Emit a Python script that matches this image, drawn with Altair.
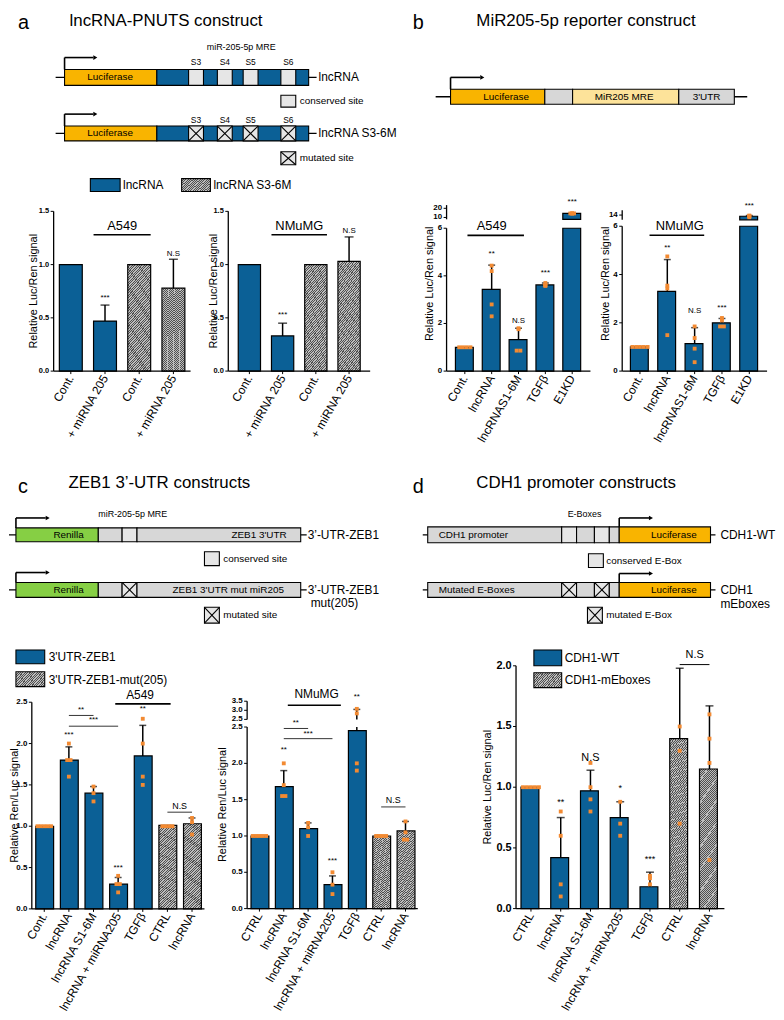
import json
import math
import altair as alt
import pandas as pd

# ---------------- data ----------------
A_LABELS = ["Cont.", "+ miRNA 205", "Cont.", "+ miRNA 205"]
A_KINDS = ["wt", "wt", "mut", "mut"]
A_A549_MEAN = [1.0, 0.47, 1.0, 0.78]
A_A549_SD = [0.0, 0.15, 0.0, 0.27]
A_NMUMG_MEAN = [1.0, 0.33, 1.0, 1.03]
A_NMUMG_SD = [0.0, 0.12, 0.0, 0.23]

B_LABELS = ["Cont.", "lncRNA", "lncRNAS1-6M", "TGFβ", "E1KD"]
B_KINDS = ["wt"] * 5
B_A549_MEAN = [1.0, 3.43, 1.32, 3.62, 14.4]
B_A549_SD = [0.0, 1.02, 0.48, 0.08, 0.4]
B_A549_PTS = [[1, 1, 1, 1], [4.43, 4.2, 2.8, 2.3], [1.8, 1.76, 0.86, 0.86],
              [3.7, 3.62, 3.6, 3.58], [14.6, 14.4, 14.4, 14.2]]
B_NMUMG_MEAN = [1.0, 3.3, 1.14, 2.0, 13.5]
B_NMUMG_SD = [0.0, 1.32, 0.66, 0.18, 0.3]
B_NMUMG_PTS = [[1, 1, 1, 1, 1], [4.75, 3.54, 3.42, 1.49], [1.85, 1.37, 0.93, 0.37],
               [2.2, 2.1, 1.85, 1.85], [13.8, 13.6, 13.5, 13.1]]

C_A549_LABELS = ["Cont.", "lncRNA", "lncRNA S1-6M", "lncRNA + miRNA205", "TGFβ", "CTRL", "lncRNA"]
C_NMUMG_LABELS = ["CTRL", "lncRNA", "lncRNA S1-6M", "lncRNA + miRNA205", "TGFβ", "CTRL", "lncRNA"]
C_KINDS = ["wt"] * 5 + ["mut"] * 2
C_A549_MEAN = [1.0, 1.8, 1.4, 0.3, 1.85, 1.01, 1.03]
C_A549_SD = [0.0, 0.16, 0.08, 0.08, 0.37, 0.0, 0.07]
C_A549_PTS = [[1, 1, 1, 1, 1], [2.0, 1.8, 1.8, 1.6], [1.48, 1.4, 1.3], [0.4, 0.3, 0.3, 0.2],
              [2.3, 2.0, 1.6, 1.5], [1, 1, 1, 1], [1.1, 1.05, 0.9]]
C_NMUMG_MEAN = [1.0, 1.68, 1.1, 0.33, 2.45, 1.0, 1.07]
C_NMUMG_SD = [0.0, 0.22, 0.08, 0.12, 0.6, 0.0, 0.13]
C_NMUMG_PTS = [[1, 1, 1, 1, 1], [2.0, 1.7, 1.55, 1.55], [1.18, 1.12, 1.0], [0.5, 0.33, 0.2],
               [3.08, 2.83, 2.0, 1.9], [1, 1, 1, 1], [1.2, 1.05, 0.95, 0.95]]

D_LABELS = ["CTRL", "lncRNA", "lncRNA S1-6M", "lncRNA + miRNA205", "TGFβ", "CTRL", "lncRNA"]
D_KINDS = ["wt"] * 5 + ["mut"] * 2
D_MEAN = [1.0, 0.42, 0.97, 0.75, 0.18, 1.4, 1.15]
D_SD = [0.0, 0.33, 0.17, 0.13, 0.12, 0.58, 0.52]
D_PTS = [[1, 1, 1, 1, 1], [0.8, 0.6, 0.2, 0.1], [1.2, 1.0, 0.9, 0.8], [0.88, 0.7, 0.6],
         [0.27, 0.25, 0.2], [1.5, 1.3, 0.7], [1.6, 1.4, 1.2, 0.4]]

# ---------------- style ----------------
BLUE = "#0b6096"
ORANGE = "#f28a32"
LUC = "#f9b400"
GREEN = "#86cf44"
LGREY = "#d7d7d7"
SITE = "#e6e6e6"
MRE = "#fde39a"
FONT = "Liberation Sans"
W, H = 768, 1004
M = 8  # page margin: reference pixel -> chart pixel


def hatch(w, h, spacing=1.7, dark="#4f4f4f", light="#bdbdbd", frac=0.45):
    k = (w + h) / (w * w + h * h)
    n = max(2, int(round((w + h) / (math.sqrt(2) * spacing))))
    stops = []
    for i in range(n):
        a, b, c = i / n, (i + frac) / n, (i + 1) / n
        stops += [{"offset": round(a, 5), "color": dark}, {"offset": round(b, 5), "color": dark},
                  {"offset": round(b, 5), "color": light}, {"offset": round(c, 5), "color": light}]
    return {"gradient": "linear", "x1": 0, "y1": 0, "x2": round(k * w, 5), "y2": round(k * h, 5),
            "stops": stops}


def spread(pts):
    rows = []
    for i, vals in enumerate(pts):
        counts = {}
        for v in vals:
            counts[v] = counts.get(v, 0) + 1
        seen = {}
        for v in vals:
            n = counts[v]
            k = seen.get(v, 0)
            seen[v] = k + 1
            rows.append({"cat": str(i), "v": v, "off": k - (n - 1) / 2})
    return pd.DataFrame(rows)


def bar_panel(labels, kinds, means, sds, pts, xr, yr, dom, ticks, fmt, pi, po,
              title=None, title_dx=-18, title_y=None, show_x=True, cap=7,
              notes=(), lines=(), hatch_fill=None, label_size=8, xlabel_size=12):
    n = len(labels)
    cats = [str(i) for i in range(n)]
    lo, hi = dom
    step = (xr[1] - xr[0]) / (n - pi + 2 * po)
    bw = step * (1 - pi)
    pad = po * step
    xsc = alt.Scale(domain=cats, range=[xr[0] - M, xr[1] - M], paddingInner=pi, paddingOuter=po)
    ysc = alt.Scale(domain=[lo, hi], range=[yr[0] - M, yr[1] - M], nice=False, zero=False)

    def X(field, bp=0.5):
        return alt.X(field, scale=xsc, axis=None, bandPosition=bp)

    def Y(field):
        return alt.Y(field, scale=ysc, axis=None)

    layers = []
    # ---- bars ----
    df = pd.DataFrame({"cat": cats, "kind": kinds, "mean": means, "sd": sds})
    df["top"] = df["mean"].clip(upper=hi)
    df["base"] = lo
    df = df[df["mean"] > lo]
    for kind, fill in (("wt", BLUE), ("mut", hatch_fill)):
        sub = df[df["kind"] == kind]
        if sub.empty:
            continue
        layers.append(alt.Chart(sub).mark_bar(fill=fill, stroke="black", strokeWidth=1.2).encode(
            x=alt.X("cat:N", scale=xsc, axis=None), y=Y("top:Q"), y2="base:Q"))
    # ---- error bars (upper half) ----
    e = pd.DataFrame({"cat": cats, "mean": means, "sd": sds})
    e["hiv"] = e["mean"] + e["sd"]
    e["e0"] = e["mean"].clip(lower=lo)
    e["e1"] = e["hiv"].clip(upper=hi)
    er = e[(e["sd"] > 0) & (e["e0"] < e["e1"])]
    if not er.empty:
        layers.append(alt.Chart(er).mark_rule(color="black", strokeWidth=1.5).encode(
            x=X("cat:N"), y=Y("e0:Q"), y2="e1:Q"))
    ec = e[(e["sd"] > 0) & (e["hiv"] >= lo) & (e["hiv"] <= hi)]
    if not ec.empty:
        layers.append(alt.Chart(ec).mark_tick(color="black", thickness=1.5, size=cap).encode(
            x=X("cat:N"), y=Y("hiv:Q")))
    # ---- replicate points ----
    if pts:
        p = spread(pts)
        p = p[(p["v"] >= lo) & (p["v"] <= hi)]
        if not p.empty:
            layers.append(alt.Chart(p).mark_point(shape="square", filled=True, size=15, color=ORANGE,
                                                  opacity=1).encode(
                x=alt.X("cat:N", scale=xsc, axis=None),
                xOffset=alt.XOffset("off:Q", scale=alt.Scale(domain=[-2.5, 2.5])),
                y=Y("v:Q")))
    # ---- y axis ----
    c0, cl = cats[0], cats[-1]
    layers.append(alt.Chart(pd.DataFrame({"c": [c0], "lo": [lo], "hi": [hi]})).mark_rule(
        color="black", strokeWidth=1.3, xOffset=-pad).encode(x=X("c:N", 0), y=Y("lo:Q"), y2="hi:Q"))
    tk = pd.DataFrame({"c": [c0] * len(ticks), "v": ticks,
                       "t": [format(v, fmt) if fmt != "d" else str(int(v)) for v in ticks]})
    layers.append(alt.Chart(tk).mark_rule(color="black", strokeWidth=1, xOffset=-pad - 3,
                                          x2Offset=-pad).encode(
        x=X("c:N", 0), x2=alt.X2("c:N", bandPosition=0), y=Y("v:Q")))
    layers.append(alt.Chart(tk).mark_text(align="right", baseline="middle", fontSize=label_size,
                                          fontWeight="bold", color="black", xOffset=-pad - 4.5).encode(
        x=X("c:N", 0), y=Y("v:Q"), text="t:N"))
    if title:
        ty = (yr[0] + yr[1]) / 2 if title_y is None else title_y
        tv = lo + (yr[0] - ty) / (yr[0] - yr[1]) * (hi - lo)
        layers.append(alt.Chart(pd.DataFrame({"c": [c0], "v": [tv], "t": [title]})).mark_text(
            angle=270, align="center", baseline="middle", fontSize=11, color="black",
            xOffset=title_dx - pad).encode(x=X("c:N", 0), y=Y("v:Q"), text="t:N"))
    # ---- x axis ----
    if show_x:
        layers.append(alt.Chart(pd.DataFrame({"a": [c0], "b": [cl], "lo": [lo]})).mark_rule(
            color="black", strokeWidth=1.3, xOffset=-pad, x2Offset=pad).encode(
            x=X("a:N", 0), x2=alt.X2("b:N", bandPosition=1), y=Y("lo:Q")))
        xl = pd.DataFrame({"cat": cats, "lo": [lo] * n, "t": labels})
        layers.append(alt.Chart(xl).mark_rule(color="black", strokeWidth=1, y2Offset=3).encode(
            x=X("cat:N"), y=Y("lo:Q"), y2="lo:Q"))
        layers.append(alt.Chart(xl).mark_text(angle=300, align="right", baseline="middle",
                                              fontSize=xlabel_size, color="black", yOffset=5).encode(
            x=X("cat:N"), y=Y("lo:Q"), text="t:N"))
    # ---- annotations ----
    for (c, bp, v, t, s) in notes:
        dx = 0.0
        if bp > 1:
            dx = (bp - 1) * bw
            bp = 1.0
        layers.append(alt.Chart(pd.DataFrame({"cat": [str(c)], "v": [v], "t": [t]})).mark_text(
            fontSize=s, align="center", baseline="middle", color="black", dx=dx).encode(
            x=X("cat:N", bp), y=Y("v:Q"), text="t:N"))
    for (ca, bpa, cb, bpb, v, sw) in lines:
        layers.append(alt.Chart(pd.DataFrame({"a": [str(ca)], "b": [str(cb)], "v": [v]})).mark_rule(
            color="black", strokeWidth=sw).encode(
            x=X("a:N", min(max(bpa, 0), 1)),
            x2=alt.X2("b:N", bandPosition=min(max(bpb, 0), 1)),
            y=Y("v:Q")))
    return alt.layer(*layers)


HATCH_A = hatch(23, 100)
HATCH_C = hatch(17, 85)
HATCH_D = hatch(20, 160)
HATCH_LEG = hatch(29, 14)

panels = []
# ---- panel a ----
panels.append(bar_panel(A_LABELS, A_KINDS, A_A549_MEAN, A_A549_SD, None, (53, 191), (369, 208), (0, 1.5),
                        [0, 0.5, 1.0, 1.5], ".1f", 0.33, 0.167, title="Relative Luc/Ren signal",
                        title_dx=-20, cap=9, hatch_fill=HATCH_A, label_size=7.5,
                        notes=[(1, 0.5, 0.69, "***", 8), (3, 0.5, 1.1, "N.S", 8), (1, 1.25, 1.36, "A549", 13)],
                        lines=[(1, 0.0, 2, 1.0, 1.28, 1.6)]))
panels.append(bar_panel(A_LABELS, A_KINDS, A_NMUMG_MEAN, A_NMUMG_SD, None, (229, 372), (369, 208), (0, 1.5),
                        [0, 0.5, 1.0, 1.5], ".1f", 0.33, 0.3, title="Relative Luc/Ren signal",
                        title_dx=-14, cap=9, hatch_fill=HATCH_A, label_size=7.5,
                        notes=[(1, 0.5, 0.53, "***", 8), (3, 0.5, 1.32, "N.S", 8), (1, 1.25, 1.36, "NMuMG", 13)],
                        lines=[(1, 0.0, 2, 1.0, 1.28, 1.6)]))
# ---- panel b ----
panels.append(bar_panel(B_LABELS, B_KINDS, B_A549_MEAN, B_A549_SD, B_A549_PTS, (449, 594), (369, 225), (0, 6),
                        [0, 2, 4, 6], "d", 0.3, 0.33, title="Relative Luc/Ren signal", title_dx=-16.5,
                        title_y=281,
                        notes=[(1, 0.5, 4.9, "**", 8), (2, 0.5, 2.1, "N.S", 8), (3, 0.5, 4.1, "***", 8),
                               (1, 0.5, 6.08, "A549", 13)],
                        lines=[(0, 0.64, 2, 0.79, 5.7, 1.6)]))
panels.append(bar_panel(B_LABELS, B_KINDS, B_A549_MEAN, B_A549_SD, B_A549_PTS, (449, 594), (216, 201.7),
                        (8, 23.5), [10, 20], "d", 0.3, 0.33, show_x=False,
                        notes=[(4, 0.5, 26.4, "***", 8)]))
panels.append(bar_panel(B_LABELS, B_KINDS, B_NMUMG_MEAN, B_NMUMG_SD, B_NMUMG_PTS, (626, 772), (369, 223),
                        (0, 6), [0, 2, 4, 6], "d", 0.3, 0.3, title="Relative Luc/Ren signal", title_dx=-16,
                        title_y=281,
                        notes=[(1, 0.5, 5.1, "**", 8), (2, 0.5, 2.5, "N.S", 8), (3, 0.5, 2.6, "***", 8),
                               (1, 1.15, 6.0, "NMuMG", 13)],
                        lines=[(0, 1.0, 2, 1.0, 5.63, 1.6)]))
panels.append(bar_panel(B_LABELS, B_KINDS, B_NMUMG_MEAN, B_NMUMG_SD, B_NMUMG_PTS, (626, 772), (216.5, 207),
                        (12, 16), [14], "d", 0.3, 0.3, show_x=False,
                        notes=[(4, 0.5, 17.8, "***", 8)]))
# ---- panel c ----
panels.append(bar_panel(C_A549_LABELS, C_KINDS, C_A549_MEAN, C_A549_SD, C_A549_PTS, (31, 205), (911, 702.7),
                        (0, 2.5), [0, 0.5, 1.0, 1.5, 2.0, 2.5], ".1f", 0.31, 0.16,
                        title="Relative Ren/Luc signal", title_dx=-17, hatch_fill=HATCH_C,
                        notes=[(1, 0.5, 2.1, "***", 8), (3, 0.5, 0.49, "***", 8), (4, 0.5, 2.42, "**", 8),
                               (1, 1.22, 2.41, "**", 8), (2, 0.5, 2.28, "***", 8), (5, 1.22, 1.25, "N.S", 9),
                               (4, 0.34, 2.59, "A549", 12)],
                        lines=[(1, 0.5, 2, 0.5, 2.34, 0.8), (1, 0.5, 3, 0.5, 2.21, 0.8),
                               (5, 0.5, 6, 0.5, 1.17, 0.8), (3, 0.33, 5, 0.69, 2.48, 1.6)]))
panels.append(bar_panel(C_NMUMG_LABELS, C_KINDS, C_NMUMG_MEAN, C_NMUMG_SD, C_NMUMG_PTS, (248, 420),
                        (910.7, 727.7), (0, 2.5), [0, 0.5, 1.0, 1.5, 2.0, 2.5], ".1f", 0.31, 0.16,
                        title="Relative Ren/Luc signal", title_dx=-24, title_y=806, hatch_fill=HATCH_C,
                        notes=[(1, 0.5, 2.19, "**", 8), (3, 0.5, 0.65, "***", 8), (1, 1.22, 2.56, "**", 8),
                               (2, 0.5, 2.41, "***", 8), (5, 1.22, 1.5, "N.S", 9)],
                        lines=[(1, 0.5, 2, 0.5, 2.48, 0.8), (1, 0.5, 3, 0.5, 2.34, 0.8),
                               (5, 0.5, 6, 0.5, 1.4, 0.8)]))
panels.append(bar_panel(C_NMUMG_LABELS, C_KINDS, C_NMUMG_MEAN, C_NMUMG_SD, C_NMUMG_PTS, (248, 420),
                        (720, 701.7), (2.5, 3.5), [2.5, 3.0, 3.5], ".1f", 0.31, 0.16, show_x=False,
                        hatch_fill=HATCH_C,
                        notes=[(4, 0.5, 3.72, "**", 8), (2, 1.0, 3.92, "NMuMG", 12)],
                        lines=[(1, 0.74, 3, 1.0, 3.28, 1.6)]))
# ---- panel d ----
panels.append(bar_panel(D_LABELS, D_KINDS, D_MEAN, D_SD, D_PTS, (519, 729), (910.7, 666), (0, 2.0),
                        [0, 0.5, 1.0, 1.5, 2.0], ".1f", 0.33, 0.167, title="Relative Luc/Ren signal",
                        title_dx=-28, label_size=11, cap=8, hatch_fill=HATCH_D,
                        notes=[(1, 0.5, 0.88, "**", 9), (2, 0.5, 1.24, "N.S", 11), (3, 0.5, 0.99, "*", 9),
                               (4, 0.5, 0.41, "***", 9), (5, 1.25, 2.09, "N.S", 11)],
                        lines=[(5, 0.5, 6, 0.5, 2.01, 1.0)]))

# ---------------- schematics (reference pixel space) ----------------
XS = alt.Scale(domain=[M, W + M], range=[0, W], nice=False, zero=False)
YS = alt.Scale(domain=[M, H + M], range=[0, H], nice=False, zero=False)

RECTS = [
    (64, 157, 65, 81, LUC), (157, 310, 65, 81, BLUE),
    (189, 204, 65, 81, SITE), (218, 233, 65, 81, SITE), (244, 259, 65, 81, SITE), (282, 297, 65, 81, SITE),
    (282, 297, 91, 103, SITE),
    (64, 157, 122, 137, LUC), (157, 310, 122, 137, BLUE),
    (189, 204, 122, 137, SITE), (218, 233, 122, 137, SITE), (244, 259, 122, 137, SITE), (282, 297, 122, 137, SITE),
    (282, 297, 148, 161, SITE),
    (90, 120, 175, 188, BLUE),
    (453, 548, 85, 100, LUC), (548, 576, 85, 100, LGREY), (576, 683, 85, 100, MRE), (683, 739, 85, 100, LGREY),
    (15, 98, 527, 541, GREEN), (98, 122, 527, 541, LGREY), (122, 137, 527, 541, SITE), (137, 302, 527, 541, LGREY),
    (205, 220, 551, 565, SITE),
    (15, 98, 582, 597, GREEN), (98, 122, 582, 597, LGREY), (122, 137, 582, 597, SITE), (137, 302, 582, 597, LGREY),
    (205, 220, 607, 623, SITE),
    (15, 44, 650, 664, BLUE),
    (430, 565, 526, 542, LGREY), (565, 580, 526, 542, SITE), (580, 598, 526, 542, LGREY),
    (598, 613, 526, 542, SITE), (613, 623, 526, 542, LGREY), (623, 715, 526, 542, LUC),
    (592, 607, 553, 567, SITE),
    (430, 565, 582, 597, LGREY), (565, 580, 582, 597, SITE), (580, 598, 582, 597, LGREY),
    (598, 613, 582, 597, SITE), (613, 623, 582, 597, LGREY), (623, 715, 582, 597, LUC),
    (591, 606, 607, 623, SITE),
    (537, 565, 650, 666, BLUE),
]
HATCH_RECTS = [(182, 211, 175, 188), (15, 44, 672, 687), (537, 565, 673, 688)]
XBOXES = [(189, 204, 122, 137), (218, 233, 122, 137), (244, 259, 122, 137), (282, 297, 122, 137),
          (282, 297, 148, 161), (122, 137, 582, 597), (205, 220, 607, 623), (565, 580, 582, 597),
          (598, 613, 582, 597), (591, 606, 607, 623)]
BACKBONES = [(55, 318, 73, 73), (55, 318, 129.5, 129.5), (438, 752, 92.5, 92.5), (8, 308, 534, 534),
             (8, 308, 589.5, 589.5), (425, 720, 534, 534), (425, 720, 589.5, 589.5)]
ARROWS = [(64, 65, 53, 93), (64, 122, 110, 93), (453, 85, 73, 483), (15, 527, 517, 45), (15, 582, 572, 45),
          (623, 526, 517, 653), (623, 582, 573, 653)]

TEXT_LEFT = [
    ("lncRNA", 320, 73, 12), ("lncRNA S3-6M", 320, 129.5, 12),
    ("conserved site", 301, 97, 10), ("mutated site", 301, 154.5, 10),
    ("lncRNA", 123, 181.5, 12), ("lncRNA S3-6M", 214, 181.5, 12),
    ("3’-UTR-ZEB1", 309, 534, 12), ("3’-UTR-ZEB1", 309, 590, 12), ("mut(205)", 312, 603, 12),
    ("conserved site", 224, 558, 10), ("mutated site", 224, 615, 10),
    ("miR-205-5p MRE", 98, 513, 9),
    ("3'UTR-ZEB1", 48, 657, 12), ("3'UTR-ZEB1-mut(205)", 48, 680, 12),
    ("CDH1 promoter", 441, 534, 10), ("Mutated E-Boxes", 441, 589.5, 10),
    ("CDH1-WT", 725, 534, 12), ("CDH1", 725, 590, 12), ("mEboxes", 725, 604, 12),
    ("conserved E-Box", 610, 560, 10), ("mutated E-Box", 610, 615, 10),
    ("CDH1-WT", 568, 658, 12), ("CDH1-mEboxes", 568, 680, 12),
]
TEXT_CENTER = [
    ("Luciferase", 110, 73, 10), ("Luciferase", 110, 129.5, 10),
    ("S3", 196.5, 57, 8.5), ("S4", 225.5, 57, 8.5), ("S5", 251.5, 57, 8.5), ("S6", 289.5, 57, 8.5),
    ("S3", 196.5, 116, 8.5), ("S4", 225.5, 116, 8.5), ("S5", 251.5, 116, 8.5), ("S6", 289.5, 116, 8.5),
    ("miR-205-5p MRE", 242, 42, 9),
    ("Luciferase", 509, 92.5, 10), ("MiR205 MRE", 628, 92.5, 10), ("3'UTR", 711, 92.5, 10),
    ("Renilla", 68, 534, 10), ("ZEB1 3'UTR", 260, 534, 10),
    ("Renilla", 68, 589.5, 10), ("ZEB1 3'UTR mut miR205", 229, 589.5, 10),
    ("Luciferase", 678, 534, 10), ("Luciferase", 678, 589.5, 10), ("E-Boxes", 588, 513, 9),
]
TEXT_TOP = [
    ("a", 17, 8, 20), ("lncRNA-PNUTS construct", 69, 8, 17),
    ("b", 415, 8, 20), ("MiR205-5p reporter construct", 479, 8, 17),
    ("c", 17, 475.5, 20), ("ZEB1 3’-UTR constructs", 68, 474, 17),
    ("d", 415, 475.5, 20), ("CDH1 promoter constructs", 479, 474, 17),
]

seg_rows = []
for (x0, x1, y0, y1) in BACKBONES:
    seg_rows.append({"x0": x0, "x1": x1, "y0": y0, "y1": y1, "w": 1.3})
for (ax, ybar, yarr, xend) in ARROWS:
    seg_rows.append({"x0": ax, "x1": ax, "y0": ybar, "y1": yarr, "w": 1.6})
    seg_rows.append({"x0": ax, "x1": xend, "y0": yarr, "y1": yarr, "w": 1.6})
xrows = []
for (x0, x1, y0, y1) in XBOXES:
    xrows.append({"x0": x0, "x1": x1, "y0": y0, "y1": y1})
    xrows.append({"x0": x0, "x1": x1, "y0": y1, "y1": y0})

segs = alt.Chart(pd.DataFrame(seg_rows)).mark_rule(color="black").encode(
    x=alt.X("x0:Q", scale=XS, axis=None), x2="x1:Q",
    y=alt.Y("y0:Q", scale=YS, axis=None), y2="y1:Q",
    strokeWidth=alt.StrokeWidth("w:Q", scale=None))
tris = alt.Chart(pd.DataFrame({"x": [a[3] + 2 for a in ARROWS], "y": [a[2] for a in ARROWS]})).mark_point(
    shape="triangle-right", filled=True, color="black", size=22, opacity=1).encode(
    x=alt.X("x:Q", scale=XS, axis=None), y=alt.Y("y:Q", scale=YS, axis=None))
rects = alt.Chart(pd.DataFrame(RECTS, columns=["x0", "x1", "y0", "y1", "fill"])).mark_rect(
    stroke="black", strokeWidth=1.1).encode(
    x=alt.X("x0:Q", scale=XS, axis=None), x2="x1:Q",
    y=alt.Y("y0:Q", scale=YS, axis=None), y2="y1:Q",
    fill=alt.Fill("fill:N", scale=None))
hrects = alt.Chart(pd.DataFrame(HATCH_RECTS, columns=["x0", "x1", "y0", "y1"])).mark_rect(
    fill=HATCH_LEG, stroke="black", strokeWidth=1.1).encode(
    x=alt.X("x0:Q", scale=XS, axis=None), x2="x1:Q",
    y=alt.Y("y0:Q", scale=YS, axis=None), y2="y1:Q")
xs = alt.Chart(pd.DataFrame(xrows)).mark_rule(color="black", strokeWidth=1.1).encode(
    x=alt.X("x0:Q", scale=XS, axis=None), x2="x1:Q",
    y=alt.Y("y0:Q", scale=YS, axis=None), y2="y1:Q")


def text_layer(rows, align, baseline):
    df = pd.DataFrame(rows, columns=["t", "x", "y", "s"])
    return alt.Chart(df).mark_text(align=align, baseline=baseline, color="black").encode(
        x=alt.X("x:Q", scale=XS, axis=None), y=alt.Y("y:Q", scale=YS, axis=None),
        text="t:N", size=alt.Size("s:Q", scale=None))


canvas = alt.layer(segs, rects, hrects, xs, tris,
                   text_layer(TEXT_LEFT, "left", "middle"),
                   text_layer(TEXT_CENTER, "center", "middle"),
                   text_layer(TEXT_TOP, "left", "top"))

chart = alt.layer(canvas, *panels).resolve_scale(
    x="independent", y="independent", xOffset="independent"
).properties(
    width=W, height=H, padding=0, background="white"
).configure(font=FONT).configure_view(stroke=None)

chart.save("out.html", embed_options={"renderer": "svg", "actions": False})
